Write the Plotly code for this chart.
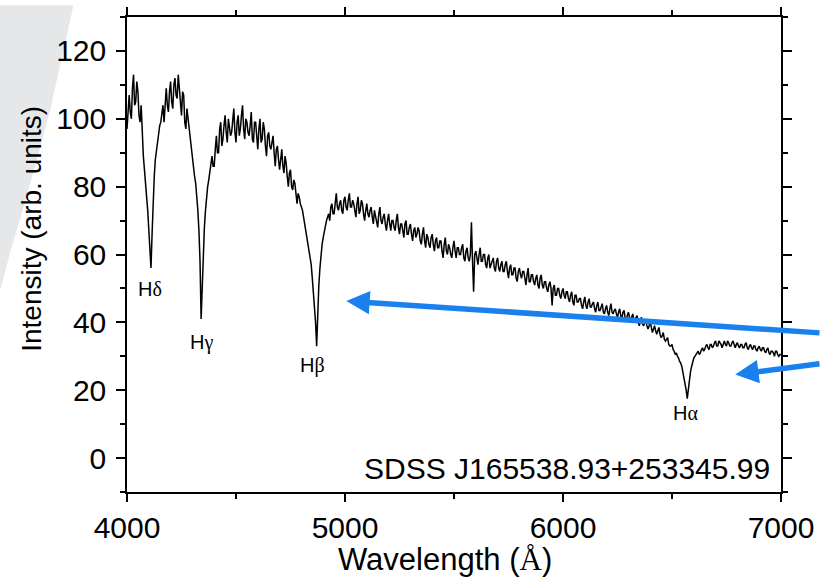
import plotly.graph_objects as go

# ---------------- data ----------------
# intensities read at 4000, 4010, ..., 7000 Å
wavelength_a = list(range(4000, 7001, 10))
intensity_a = [
    97, 107, 100, 113, 105, 108, 99, 93, 85, 77,            # 4000
    68, 56, 76, 88, 93, 98, 101, 99, 109, 102,              # 4100
    111, 103, 112, 106, 109, 101, 107, 97, 100, 93,         # 4200
    89, 83, 78, 67, 41, 62, 73, 80, 84, 89,                 # 4300
    86, 95, 90, 99, 94, 101, 93, 98, 96, 103,               # 4400
    93, 101, 97, 104, 94, 99, 95, 102, 93, 99,              # 4500
    91, 100, 94, 97, 89, 96, 91, 95, 86, 92,                # 4600
    85, 91, 84, 87, 80, 85, 79, 81, 75, 77,                 # 4700
    74, 71, 68, 64, 60, 53, 45, 33, 51, 60,                 # 4800
    65, 68, 71, 70, 75, 72, 78, 73, 76, 72,                 # 4900
    77, 73, 78, 74, 75, 71, 77, 73, 75, 70,                 # 5000
    75, 71, 74, 69, 71, 68, 74, 69, 72, 67,                 # 5100
    72, 67, 70, 67, 72, 66, 69, 65, 70, 66,                 # 5200
    69, 64, 68, 66, 67, 63, 68, 62, 65, 62,                 # 5300
    66, 61, 65, 62, 64, 59, 65, 60, 62, 59,                 # 5400
    64, 59, 62, 60, 63, 58, 62, 58, 69.5, 49,               # 5500
    61, 57, 62, 58, 60, 56, 60, 57, 59, 55,                 # 5600
    59, 55, 58, 55, 58, 53, 57, 54, 56, 52,                 # 5700
    56, 53, 55, 51, 56, 52, 54, 51, 54, 50,                 # 5800
    54, 50, 52, 49, 52, 45, 51, 48, 50, 47,                 # 5900
    50, 47, 49, 46, 49, 45, 48, 46, 47, 44,                 # 6000
    47.5, 44, 47, 44.5, 46, 43, 46, 43.5, 45.5, 42.5,       # 6100
    45, 42, 45.5, 42.5, 44, 41.5, 44, 41, 43.5, 40.5,       # 6200
    43, 40, 42.5, 40, 42, 39, 41.5, 39, 40.5, 38,           # 6300
    40.5, 37, 39, 36.5, 38.5, 35.5, 37, 34.5, 35.5, 33,     # 6400
    33.5, 31.5, 31, 29.5, 28, 25.5, 22, 17.5, 23.5, 27,     # 6500
    29.5, 30.5, 31.5, 31, 32.5, 32, 33.5, 32, 33.5, 33,     # 6600
    34.5, 33, 34, 32.5, 34.5, 33, 34, 33, 34.5, 32.5,       # 6700
    34, 32.5, 33.5, 32.5, 34, 32, 33.5, 32, 33, 31.5,       # 6800
    33, 31.5, 32.5, 31, 32.5, 30.5, 31.5, 30, 31.5, 30,     # 6900
    30.5,                                                   # 7000
]

# intensities read at 4005, 4015, ..., 6995 Å
wavelength_b = list(range(4005, 7000, 10))
intensity_b = [
    103, 102, 109, 104, 111, 101, 104, 89, 82, 73,          # 4005
    62, 66, 83, 91, 96, 99, 104, 106, 104, 108,             # 4105
    105, 110, 107, 113, 104, 108, 99, 103, 96, 91,          # 4205
    86, 81, 73, 58, 52, 68, 77, 82, 87, 86,                 # 4305
    91, 90, 97, 92, 98, 96, 100, 95, 101, 96,               # 4405
    99, 95, 101, 97, 100, 96, 98, 94, 99, 95,               # 4505
    97, 93, 99, 92, 95, 92, 93, 90, 91, 88,                 # 4605
    88, 86, 89, 83, 84, 80, 82, 78, 78, 75,                 # 4705
    73, 69, 66, 62, 57, 49, 40, 43, 56, 63,                 # 4805
    67, 70, 72, 74, 72, 76, 74, 75, 73, 76,                 # 4905
    74, 76, 74, 76, 73, 75, 72, 76, 72, 73,                 # 5005
    72, 73, 71, 73, 70, 72, 70, 71, 69, 70,                 # 5105
    69, 70, 68, 70, 68, 69, 67, 69, 66, 68,                 # 5205
    66, 67, 65, 68, 64, 66, 64, 66, 63, 65,                 # 5305
    63, 64, 62, 64, 61, 63, 61, 63, 60, 62,                 # 5405
    61, 62, 60, 62, 59, 61, 59, 60, 58, 60,                 # 5505
    59, 60, 58, 60, 57, 59, 56, 58, 56, 58,                 # 5605
    56, 57, 55, 57, 55, 56, 54, 56, 53, 55,                 # 5705
    54, 55, 53, 54, 52, 54, 52, 53, 51, 53,                 # 5805
    51, 52, 50, 51, 50, 50, 48, 50, 48, 49,                 # 5905
    48, 49, 47, 48, 46, 48, 46, 47, 45, 46,                 # 6005
    45, 46, 44.5, 45.5, 44, 45, 43.5, 44.5, 43, 44,         # 6105
    43, 44, 43, 43.5, 42.5, 43, 42, 43, 41.5, 42,           # 6205
    41.5, 41.5, 40.5, 41.5, 40, 40.5, 39.5, 40, 39, 39,     # 6305
    38.5, 38, 37.5, 37.5, 36.5, 36, 35, 35, 33.5, 33,       # 6405
    32, 30.5, 30, 28.5, 27, 24, 20, 20.5, 25.5, 28.5,       # 6505
    30, 31, 30.5, 32, 31.5, 33, 32.5, 33.5, 32.5, 34,       # 6605
    33, 34.5, 33.5, 34, 33.5, 34.5, 33, 34, 33.5, 33.5,     # 6705
    33, 33.5, 32.5, 33.5, 32.5, 33, 32.5, 33, 32, 32.5,     # 6805
    32, 32.5, 31.5, 32, 31, 31.5, 31, 31.5, 30.5, 30.5,     # 6905
]

line_names = ["δ", "γ", "β", "α"]
label_wavelength = [4105, 4341, 4850, 6563]
label_intensity = [49.7, 34.2, 27.4, 13.2]

object_name = "SDSS J165538.93+253345.99"

arrow_tip_wavelength = [5006, 6790]
arrow_tip_intensity = [46.3, 24.6]
arrow_tail_dx = [492, 100]
arrow_tail_dy = [32, -11]

# merge the two readings into one spectrum ordered by wavelength
spectrum = sorted(zip(wavelength_a + wavelength_b, intensity_a + intensity_b))
wavelength = [w for w, _ in spectrum]
intensity = [v for _, v in spectrum]

# ---------------- layout geometry ----------------
W, H = 821, 578
ML, MR, MT, MB = 127, 35, 7, 86
PW, PH = W - ML - MR, H - MT - MB


def px2paper(px, py):
    return (px - ML) / PW, (H - MB - py) / PH


FONT = "Arial, 'Liberation Sans', sans-serif"
SERIF = "'Times New Roman', 'Liberation Serif', serif"
ARROW = "#1a80ee"

fig = go.Figure()
fig.add_trace(go.Scatter(x=wavelength, y=intensity, mode="lines",
                         line=dict(color="black", width=1.5), showlegend=False,
                         hoverinfo="skip"))

axis_common = dict(showline=True, linecolor="black", linewidth=1.5, mirror="ticks",
                   ticks="outside", tickcolor="black", tickwidth=1.5,
                   showgrid=False, zeroline=False,
                   tickfont=dict(family=FONT, size=30, color="black"))

fig.update_xaxes(range=[4000, 7000], tick0=4000, dtick=1000, ticklen=8,
                 minor=dict(dtick=500, ticks="outside", ticklen=5, tickwidth=1.5,
                            tickcolor="black", showgrid=False),
                 **axis_common)
fig.update_yaxes(range=[-10, 130], tick0=0, dtick=20, ticklen=9,
                 ticklabelstandoff=4,
                 minor=dict(dtick=10, ticks="outside", ticklen=5, tickwidth=1.5,
                            tickcolor="black", showgrid=False),
                 **axis_common)

annotations = []
# spectral line labels
for name, lx, ly in zip(line_names, label_wavelength, label_intensity):
    annotations.append(dict(x=lx, y=ly, xref="x", yref="y", showarrow=False,
                            text=f"H<span style=\"font-family:{SERIF}\">{name}</span>",
                            font=dict(family=FONT, size=20, color="black"),
                            xanchor="center", yanchor="middle"))
# object name
ox, oy = px2paper(777, 468)
annotations.append(dict(x=ox, y=oy, xref="paper", yref="paper", showarrow=False,
                        text=object_name, xanchor="right", yanchor="middle",
                        font=dict(family=FONT, size=30, color="black")))
# axis titles
tx, ty = px2paper(447, 561)
annotations.append(dict(x=tx, y=ty, xref="paper", yref="paper", showarrow=False,
                        text=f"Wavelength (<span style=\"font-family:{SERIF}\">Å</span>)",
                        xanchor="center", yanchor="middle",
                        font=dict(family=FONT, size=31, color="black")))
yx, yy = px2paper(30, 223.5)
annotations.append(dict(x=yx, y=yy, xref="paper", yref="paper", showarrow=False,
                        text="Intensity (arb. units)", textangle=-90,
                        xanchor="center", yanchor="middle",
                        font=dict(family=FONT, size=28, color="black")))
# blue arrows
for ax_, ay_, dx, dy in zip(arrow_tip_wavelength, arrow_tip_intensity,
                            arrow_tail_dx, arrow_tail_dy):
    annotations.append(dict(x=ax_, y=ay_, xref="x", yref="y", text="",
                            showarrow=True, ax=dx, ay=dy, axref="pixel", ayref="pixel",
                            arrowhead=2, arrowsize=0.85, arrowwidth=5.5,
                            arrowcolor=ARROW, standoff=0))

# grey decorative wedge at top-left
wedge_px = [(-5, -5), (73, -5), (72, 0), (61, 50), (50, 100), (37, 150),
            (23, 200), (10, 245), (0, 283), (-5, 300)]
pts = [px2paper(x, y) for x, y in wedge_px]
path = "M " + " L ".join(f"{x:.4f},{y:.4f}" for x, y in pts) + " Z"
shapes = [dict(type="path", xref="paper", yref="paper", path=path,
               fillcolor="#e6e7e8", line=dict(width=0), layer="below")]

fig.update_layout(width=W, height=H, margin=dict(l=ML, r=MR, t=MT, b=MB),
                  paper_bgcolor="white", plot_bgcolor="white",
                  annotations=annotations, shapes=shapes, showlegend=False)

fig.write_html("out.html")
